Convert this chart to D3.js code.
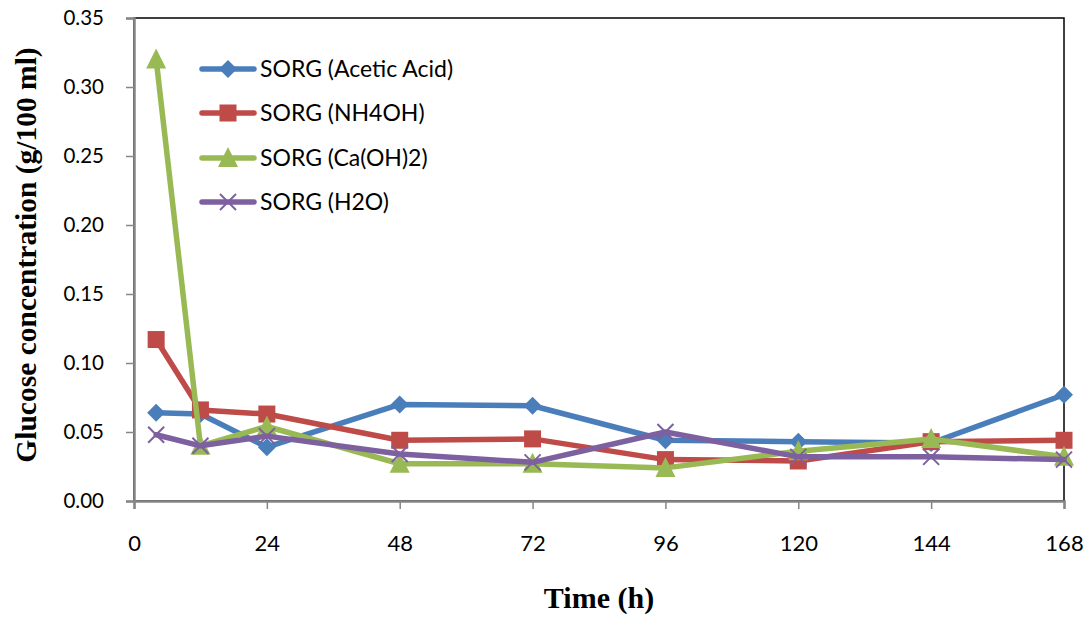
<!DOCTYPE html>
<html>
<head>
<meta charset="utf-8">
<script src="https://cdn.jsdelivr.net/npm/d3@7"></script>
<style>
  html, body { margin: 0; padding: 0; background: #fff; }
  svg { display: block; }
</style>
</head>
<body>
<svg id="chart" width="1092" height="618"></svg>
<script>
// Sampling times (h)
const times = [4, 12, 24, 48, 72, 96, 120, 144, 168];

// Glucose concentration (g/100 ml) for each pretreatment
const acetic = [0.064, 0.063, 0.039, 0.070, 0.069, 0.044, 0.043, 0.042, 0.077];
const nh4oh  = [0.117, 0.066, 0.063, 0.044, 0.045, 0.030, 0.029, 0.043, 0.044];
const caoh2  = [0.320, 0.040, 0.054, 0.027, 0.027, 0.024, 0.036, 0.045, 0.032];
const h2o    = [0.048, 0.040, 0.047, 0.034, 0.028, 0.050, 0.032, 0.032, 0.030];

const seriesNames = ["SORG (Acetic Acid)", "SORG (NH4OH)", "SORG (Ca(OH)2)", "SORG (H2O)"];
const xTicks = [0, 24, 48, 72, 96, 120, 144, 168];
const yTicks = [0, 0.05, 0.10, 0.15, 0.20, 0.25, 0.30, 0.35];

const series = [
  { name: seriesNames[0], values: acetic, color: "#4a7ebb", marker: "diamond" },
  { name: seriesNames[1], values: nh4oh,  color: "#be4b48", marker: "square" },
  { name: seriesNames[2], values: caoh2,  color: "#98b954", marker: "triangle" },
  { name: seriesNames[3], values: h2o,    color: "#7d60a0", marker: "cross" }
];

const svg = d3.select("#chart");
const plot = { left: 134, right: 1064, top: 18, bottom: 501 };

const x = d3.scaleLinear().domain([0, 168]).range([plot.left, plot.right]);
const y = d3.scaleLinear().domain([0, 0.35]).range([plot.bottom, plot.top]);

// Plot frame (top and right edges)
svg.append("rect")
  .attr("x", plot.left).attr("y", plot.top)
  .attr("width", plot.right - plot.left).attr("height", plot.bottom - plot.top)
  .attr("fill", "none").attr("stroke", "#000").attr("stroke-width", 1.5);

// Y axis
const yAxis = svg.append("g")
  .attr("transform", `translate(${plot.left},0)`)
  .call(d3.axisLeft(y).tickValues(yTicks).tickFormat(d3.format(".2f")).tickSize(8).tickPadding(22));
yAxis.select(".domain").attr("stroke", "#868686").attr("stroke-width", 2.5);
yAxis.selectAll(".tick line").attr("stroke", "#868686").attr("stroke-width", 1.5);
yAxis.selectAll(".tick text")
  .attr("fill", "#000").attr("font-family", "Lato, sans-serif").attr("font-size", 20.5);

// X axis
const xAxis = svg.append("g")
  .attr("transform", `translate(0,${plot.bottom})`)
  .call(d3.axisBottom(x).tickValues(xTicks).tickSize(8).tickPadding(26));
xAxis.select(".domain").attr("stroke", "#868686").attr("stroke-width", 2.5);
xAxis.selectAll(".tick line").attr("stroke", "#868686").attr("stroke-width", 1.5);
xAxis.selectAll(".tick text")
  .attr("fill", "#000").attr("font-family", "Lato, sans-serif").attr("font-size", 22);

// Axis titles
svg.append("text")
  .attr("x", 599).attr("y", 608)
  .attr("text-anchor", "middle")
  .attr("font-family", "'Liberation Serif', 'Times New Roman', serif")
  .attr("font-weight", "bold").attr("font-size", 30)
  .text("Time (h)");

svg.append("text")
  .attr("transform", "translate(36,255) rotate(-90)")
  .attr("text-anchor", "middle")
  .attr("font-family", "'Liberation Serif', 'Times New Roman', serif")
  .attr("font-weight", "bold").attr("font-size", 29.5)
  .text("Glucose concentration (g/100 ml)");

// Marker shapes
function drawMarker(g, kind, cx, cy, color) {
  if (kind === "diamond") {
    const r = 9;
    g.append("path")
      .attr("d", `M${cx},${cy - r}L${cx + r},${cy}L${cx},${cy + r}L${cx - r},${cy}Z`)
      .attr("fill", color);
  } else if (kind === "square") {
    const s = 17;
    g.append("rect").attr("x", cx - s / 2).attr("y", cy - s / 2)
      .attr("width", s).attr("height", s).attr("fill", color);
  } else if (kind === "triangle") {
    const h = 20, w = 20;
    g.append("path")
      .attr("d", `M${cx},${cy - h / 2 - 1}L${cx + w / 2},${cy + h / 2 - 1}L${cx - w / 2},${cy + h / 2 - 1}Z`)
      .attr("fill", color);
  } else if (kind === "cross") {
    const r = 8;
    g.append("path")
      .attr("d", `M${cx - r},${cy - r}L${cx + r},${cy + r}M${cx - r},${cy + r}L${cx + r},${cy - r}`)
      .attr("stroke", color).attr("stroke-width", 2).attr("fill", "none");
  }
}

const line = d3.line().x(d => x(d[0])).y(d => y(d[1]));

// Series: line then markers, each series on top of the previous one
series.forEach(s => {
  const g = svg.append("g");
  const pts = times.map((t, i) => [t, s.values[i]]);
  g.append("path")
    .attr("d", line(pts))
    .attr("fill", "none").attr("stroke", s.color)
    .attr("stroke-width", 5.5).attr("stroke-linejoin", "round").attr("stroke-linecap", "round");
  pts.forEach(p => drawMarker(g, s.marker, x(p[0]), y(p[1]), s.color));
});

// Legend
const legend = svg.append("g");
const legendRows = [69, 113, 158, 202];
series.forEach((s, i) => {
  const ly = legendRows[i];
  const g = legend.append("g");
  g.append("line")
    .attr("x1", 202).attr("x2", 254).attr("y1", ly).attr("y2", ly)
    .attr("stroke", s.color).attr("stroke-width", 5.5).attr("stroke-linecap", "round");
  drawMarker(g, s.marker, 228, ly, s.color);
  g.append("text")
    .attr("x", 260).attr("y", ly).attr("dy", "0.35em")
    .attr("font-family", "Lato, sans-serif").attr("font-size", 23)
    .attr("fill", "#000")
    .text(s.name);
});
</script>
</body>
</html>
